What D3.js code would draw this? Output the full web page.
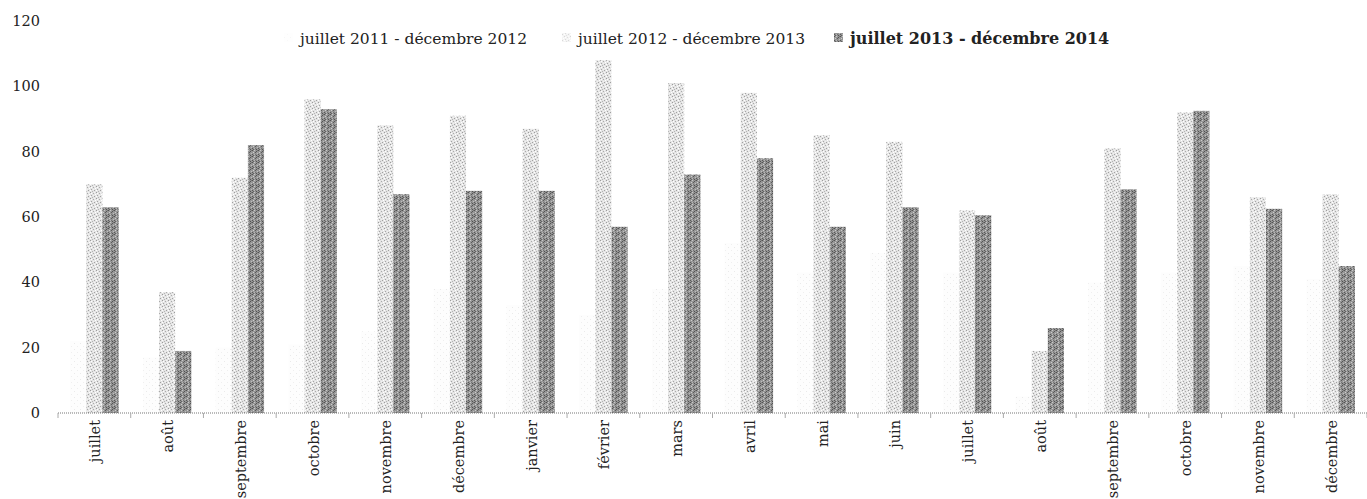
<!DOCTYPE html>
<html>
<head>
<meta charset="utf-8">
<script src="https://cdn.jsdelivr.net/npm/d3@7"></script>
<style>
  body { margin: 0; background: #fff; }
  text { font-family: "DejaVu Serif", serif; fill: #222; }
</style>
</head>
<body>
<div id="chart"></div>
<script>
// categories (18 mois)
const months = ['juillet', 'août', 'septembre', 'octobre', 'novembre', 'décembre',
  'janvier', 'février', 'mars', 'avril', 'mai', 'juin',
  'juillet', 'août', 'septembre', 'octobre', 'novembre', 'décembre']
const seriesNames = ['juillet 2011 - décembre 2012', 'juillet 2012 - décembre 2013', 'juillet 2013 - décembre 2014']
const s2011 = [22, 17, 20, 21, 25, 38, 33, 30, 38, 52, 43, 49, 43, 5, 40, 43, 45, 41]
const s2012 = [70, 37, 72, 96, 88, 91, 87, 108, 101, 98, 85, 83, 62, 19, 81, 92, 66, 67]
const s2013 = [63, 19, 82, 93, 67, 68, 68, 57, 73, 78, 57, 63, 60.5, 26, 68.5, 92.5, 62.5, 45]
const yTicks = [0, 20, 40, 60, 80, 100, 120]

const width = 1367, height = 499
const margin = { left: 58, right: 0, top: 21, bottom: 86 }

const svg = d3.select('#chart').append('svg')
  .attr('width', width).attr('height', height)

// textures façon scan
const defs = svg.append('defs')
function makePattern(id, bg, dots) {
  const p = defs.append('pattern').attr('id', id)
    .attr('patternUnits', 'userSpaceOnUse').attr('width', 6).attr('height', 6)
  p.append('rect').attr('width', 6).attr('height', 6).attr('fill', bg)
  dots.forEach(d => {
    p.append('rect').attr('x', d[0]).attr('y', d[1]).attr('width', 1).attr('height', 1).attr('fill', d[2])
  })
}
makePattern('pat0', '#fdfdfd', [[2, 1, '#eaeaea'], [5, 4, '#efefef']])
makePattern('pat1', '#e4e4e4', [[0, 0, '#9c9c9c'], [3, 1, '#aaa'], [1, 3, '#a4a4a4'], [4, 4, '#a0a0a0'], [2, 5, '#b4b4b4'], [5, 2, '#fff'], [1, 1, '#fff'], [4, 0, '#f4f4f4'], [0, 4, '#fff'], [3, 3, '#f2f2f2']])
makePattern('pat2', '#959595', [[0, 0, '#505050'], [2, 0, '#c8c8c8'], [4, 1, '#555'], [1, 2, '#cdcdcd'], [3, 2, '#5c5c5c'], [5, 3, '#bdbdbd'], [0, 4, '#585858'], [2, 4, '#b8b8b8'], [4, 5, '#525252'], [1, 5, '#636363'], [3, 4, '#737373'], [5, 0, '#737373']])
const fills = ['url(#pat0)', 'url(#pat1)', 'url(#pat2)']

const x0 = d3.scaleBand().domain(d3.range(months.length))
  .range([margin.left, width - margin.right])
const x1 = d3.scaleBand().domain([0, 1, 2])
  .range([0, x0.bandwidth()]).paddingOuter(0.75)
const y = d3.scaleLinear().domain([0, 120]).range([height - margin.bottom, margin.top])

// axe Y (sans ligne)
const yAxis = svg.append('g').attr('transform', `translate(40,0)`)
  .call(d3.axisLeft(y).tickValues(yTicks).tickSize(0).tickPadding(0))
yAxis.select('.domain').remove()
yAxis.selectAll('text').style('font-family', '"DejaVu Serif", serif').style('font-size', '14.5px').attr('fill', '#222')

// barres
const series = [s2011, s2012, s2013]
series.forEach((vals, si) => {
  svg.append('g').selectAll('rect')
    .data(vals)
    .enter()
    .append('rect')
    .attr('x', (d, i) => x0(i) + x1(si))
    .attr('y', d => y(d))
    .attr('width', x1.bandwidth())
    .attr('height', d => y(0) - y(d))
    .attr('fill', fills[si])
})

// axe X pointillé
const baseY = y(0)
svg.append('line')
  .attr('x1', margin.left).attr('x2', width)
  .attr('y1', baseY).attr('y2', baseY)
  .attr('stroke', '#777').attr('stroke-dasharray', '1,1')
svg.append('g').selectAll('line')
  .data(d3.range(months.length + 1))
  .enter().append('line')
  .attr('x1', i => margin.left + i * x0.step()).attr('x2', i => margin.left + i * x0.step())
  .attr('y1', baseY).attr('y2', baseY + 5)
  .attr('stroke', '#aaa')

svg.append('g').selectAll('text')
  .data(months)
  .enter().append('text')
  .attr('transform', (d, i) => `translate(${x0(i) + x0.bandwidth() / 2 + 6},${baseY + 7}) rotate(-90)`)
  .attr('text-anchor', 'end')
  .style('font-size', '14.5px')
  .text(d => d)

// légende
const legendX = [300, 578, 850]
const legend = svg.append('g')
seriesNames.forEach((name, i) => {
  legend.append('rect').attr('x', legendX[i] - 16).attr('y', 33).attr('width', 9).attr('height', 9)
    .attr('fill', fills[i]).attr('opacity', i === 2 ? 1 : 0.4)
  legend.append('text').attr('x', legendX[i]).attr('y', 44)
    .style('font-size', i === 2 ? '16px' : '15.5px')
    .style('font-weight', i === 2 ? 'bold' : 'normal')
    .text(name)
})
</script>
</body>
</html>
